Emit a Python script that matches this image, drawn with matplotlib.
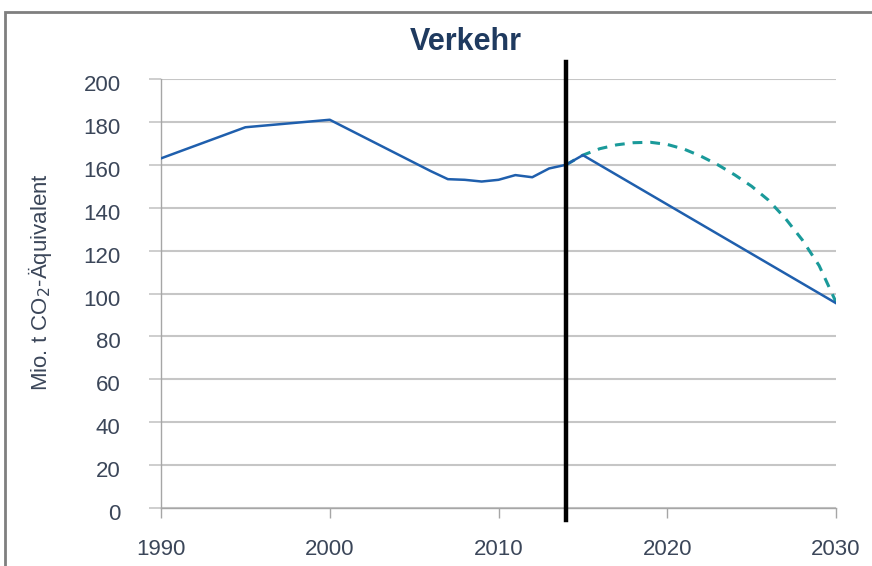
import matplotlib
matplotlib.use("Agg")
import matplotlib.pyplot as plt
from matplotlib.patches import Rectangle
from matplotlib.transforms import ScaledTranslation

plt.rcParams['font.family'] = ['Liberation Sans', 'DejaVu Sans']

# Historical + linear target path
years_hist = [1990, 1995, 2000, 2005, 2006, 2007, 2008, 2009, 2010, 2011, 2012, 2013, 2014, 2015, 2030]
values_hist = [163, 177.5, 181, 161, 157, 153.3, 153, 152.2, 153, 155.2, 154.2, 158.3, 160, 164.5, 95.5]

# Projected (dashed) path
years_proj = [2014, 2015, 2016, 2017, 2018, 2019, 2020, 2021, 2022, 2023, 2024, 2025, 2026, 2027, 2028, 2029, 2030]
values_proj = [160, 164.5, 167.5, 169.3, 170.3, 170.5, 169.5, 167.3, 164, 160, 155.3, 150, 143.5, 135, 125, 113, 96]

cut_year = 2014
title = "Verkehr"
ylabel = "Mio. t CO$_2$-Äquivalent"
yticks = [0, 20, 40, 60, 80, 100, 120, 140, 160, 180, 200]
xticks = [1990, 2000, 2010, 2020, 2030]

W, H = 872, 566
fig = plt.figure(figsize=(W / 100, H / 100), dpi=100)
ax = fig.add_axes([161 / W, 1 - 508 / H, (836 - 161) / W, (508 - 79) / H])

# frame
fig.patches.append(Rectangle((5 / W, -0.05), 1.2, 1 - 12 / H + 0.05, transform=fig.transFigure,
                             fill=False, edgecolor='#7f7f7f', linewidth=2))

blue = '#1f5fad'
teal = '#1a9a9a'
grey_text = '#3b4659'

ax.plot(years_proj, values_proj, color=teal, lw=2.2, ls=(0, (3.2, 2.6)), zorder=3)
ax.plot(years_hist, values_hist, color=blue, lw=1.8, zorder=4)

ax.axvline(cut_year, ymin=-0.028, ymax=1.04, color='black', lw=3.2, clip_on=False, zorder=5)

ax.set_xlim(1990, 2030)
ax.set_ylim(0, 200)
ax.set_yticks(yticks)
ax.set_xticks(xticks)
ax.grid(axis='y', color='#c6c6c6', lw=1.5, zorder=0)
ax.set_axisbelow(True)

for s in ['top', 'right']:
    ax.spines[s].set_visible(False)
for s in ['left', 'bottom']:
    ax.spines[s].set_color('#a6a6a6')
    ax.spines[s].set_linewidth(1.0)

ax.tick_params(axis='y', length=9, width=1.2, color='#c6c6c6', pad=20, labelsize=16, labelcolor=grey_text)
ax.tick_params(axis='x', length=7, width=1.0, color='#a6a6a6', pad=15, labelsize=16, labelcolor=grey_text)
shift = ScaledTranslation(0, -4 / 100, fig.dpi_scale_trans)
for lab in ax.get_yticklabels():
    lab.set_transform(lab.get_transform() + shift)

fig.text(466 / W, 1 - 42 / H, title, ha='center', va='center', fontsize=22,
         fontweight='bold', color='#1f3a5f')
fig.text(40 / W, 1 - 282 / H, ylabel, rotation=90, ha='center', va='center',
         fontsize=16, color=grey_text)

fig.savefig('out.png', dpi=100)
